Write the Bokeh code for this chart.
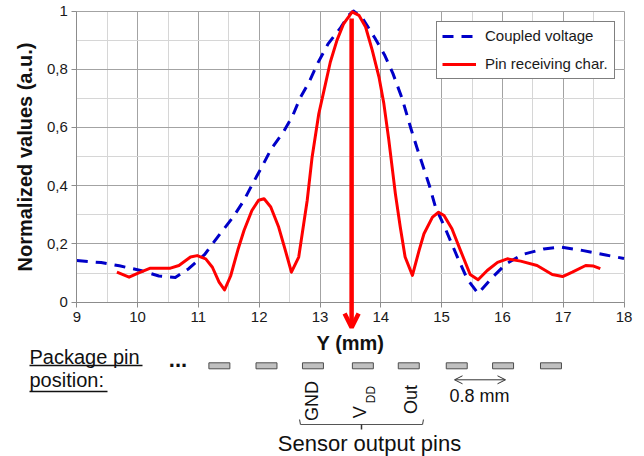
import math
from bokeh.plotting import figure
from bokeh.models import (Legend, LegendItem, Label, Arrow, OpenHead, Grid, LinearAxis,
                          SingleIntervalTicker, CustomJSTickFormatter, Range1d)
from bokeh.embed import file_html
from bokeh.resources import INLINE

# ---------------- data ----------------
coupled_x = [9.0, 9.4, 9.7, 10.05, 10.35, 10.62, 10.84, 11.1, 11.35, 11.57, 11.75, 11.9,
             12.05, 12.2, 12.4, 12.55, 12.67, 12.83, 12.96, 13.13, 13.34, 13.47, 13.55,
             13.7, 13.9, 14.06, 14.2, 14.35, 14.5, 14.6, 14.8, 14.9, 15.05, 15.26, 15.42,
             15.6, 15.84, 16.05, 16.33, 16.68, 16.96, 17.31, 17.7, 18.0]
coupled_y = [0.143, 0.136, 0.125, 0.109, 0.09, 0.085, 0.115, 0.163, 0.233, 0.292, 0.35, 0.41,
             0.467, 0.527, 0.585, 0.64, 0.70, 0.76, 0.82, 0.886, 0.943, 0.985, 1.0,
             0.975, 0.908, 0.85, 0.785, 0.70, 0.593, 0.527, 0.40, 0.326, 0.258, 0.155, 0.08,
             0.03, 0.086, 0.13, 0.164, 0.183, 0.189, 0.178, 0.162, 0.15]

pin_char_x = [9.66, 9.86, 9.99, 10.21, 10.54, 10.68, 10.87, 10.98, 11.12, 11.23, 11.34, 11.43,
              11.53, 11.65, 11.75, 11.88, 11.99, 12.08, 12.19, 12.32, 12.43, 12.53, 12.65,
              12.79, 12.87, 12.98, 13.09, 13.17, 13.28, 13.39, 13.53, 13.64, 13.75, 13.86,
              13.97, 14.05, 14.13, 14.24, 14.32, 14.4, 14.52, 14.63, 14.71, 14.85, 14.95,
              15.04, 15.17, 15.31, 15.47, 15.6, 15.75, 15.92, 16.08, 16.3, 16.57, 16.82,
              16.99, 17.15, 17.37, 17.5, 17.61]
pin_char_y = [0.103, 0.086, 0.098, 0.117, 0.117, 0.126, 0.155, 0.16, 0.149, 0.12, 0.069, 0.042,
              0.09, 0.18, 0.246, 0.315, 0.35, 0.355, 0.327, 0.258, 0.178, 0.103, 0.155,
              0.35, 0.498, 0.647, 0.75, 0.825, 0.9, 0.957, 0.997, 0.985, 0.945, 0.865,
              0.773, 0.682, 0.56, 0.372, 0.258, 0.155, 0.092, 0.178, 0.235, 0.292, 0.309,
              0.298, 0.252, 0.178, 0.095, 0.077, 0.109, 0.137, 0.149, 0.141, 0.126, 0.095,
              0.088, 0.103, 0.126, 0.124, 0.115]

x_bounds = (9, 18)
y_bounds = (0, 1)
peak_x = 13.52                      # red marker arrow position (mm)
package_pins_x = [11.345, 12.12, 12.884, 13.705, 14.46, 15.249, 16.011, 16.799]
pin_names = ["GND", "V", "Out"]     # under pins 3, 4, 5
series_names = ["Coupled voltage", "Pin receiving char."]
x_label = "Y (mm)"
y_label = "Normalized values (a.u.)"

# ---------------- layout: frame = whole canvas ----------------
W, H = 644, 456
XPX0, XPX1 = 76.3, 623.5      # screen x of x=9 and x=18
YPX0, YPX1 = 301.7, 10.5      # screen y of y=0 and y=1
SX = (XPX1 - XPX0) / (x_bounds[1] - x_bounds[0])
SY = (YPX0 - YPX1) / (y_bounds[1] - y_bounds[0])
FONT = "Liberation Sans"

def dx(px):
    return x_bounds[0] + (px - XPX0) / SX

def dy(py):
    return y_bounds[0] + (YPX0 - py) / SY

p = figure(width=W, height=H, x_range=Range1d(dx(0), dx(W)), y_range=Range1d(dy(H), dy(0)),
           x_axis_type=None, y_axis_type=None,
           output_backend="svg", toolbar_location=None, min_border=0,
           min_border_left=0, min_border_right=0, min_border_top=0, min_border_bottom=0)
p.background_fill_color = "white"
p.border_fill_color = "white"
p.outline_line_color = None

xticker = SingleIntervalTicker(interval=1, num_minor_ticks=2)
yticker = SingleIntervalTicker(interval=0.2, num_minor_ticks=2)

has_cross = "cross_bounds" in Grid.properties()
if has_cross:
    xgrid = Grid(dimension=0, ticker=xticker, bounds=x_bounds, cross_bounds=y_bounds)
    ygrid = Grid(dimension=1, ticker=yticker, bounds=y_bounds, cross_bounds=x_bounds)
    for g in (xgrid, ygrid):
        g.grid_line_color = "#a3a3a3"
        g.grid_line_width = 1
        g.minor_grid_line_color = "#d6d6d6"
        g.minor_grid_line_width = 1
        p.add_layout(g)
else:
    xs_minor = [x_bounds[0] + 0.5 * i for i in range(19) if i % 2 == 1]
    ys_minor = [0.1 * i for i in range(11) if i % 2 == 1]
    xs_major = list(range(9, 19))
    ys_major = [0.2 * i for i in range(6)]
    p.segment(x0=xs_minor, x1=xs_minor, y0=0, y1=1, line_color="#d6d6d6", line_width=1)
    p.segment(x0=9, x1=18, y0=ys_minor, y1=ys_minor, line_color="#d6d6d6", line_width=1)
    p.segment(x0=xs_major, x1=xs_major, y0=0, y1=1, line_color="#a3a3a3", line_width=1)
    p.segment(x0=9, x1=18, y0=ys_major, y1=ys_major, line_color="#a3a3a3", line_width=1)

xaxis = LinearAxis(fixed_location=y_bounds[0], bounds=x_bounds, ticker=xticker,
                   axis_label=x_label)
yaxis = LinearAxis(fixed_location=x_bounds[0], bounds=y_bounds, ticker=yticker,
                   axis_label=y_label)
yaxis.formatter = CustomJSTickFormatter(code="""
    if (Math.abs(tick) < 1e-9) return "0";
    if (Math.abs(tick - 1) < 1e-9) return "1";
    return tick.toFixed(1).replace('.', ',');
""")
for ax in (xaxis, yaxis):
    ax.axis_line_color = "#8c8c8c"
    ax.major_tick_line_color = "#8c8c8c"
    ax.minor_tick_line_color = None
    ax.major_tick_out = 5
    ax.major_tick_in = 0
    ax.major_label_text_font = FONT
    ax.major_label_text_font_size = "15px"
    ax.major_label_text_color = "#1a1a1a"
    ax.axis_label_text_font = FONT
    ax.axis_label_text_font_size = "20px"
    ax.axis_label_text_font_style = "bold"
    ax.axis_label_text_color = "#111111"
xaxis.major_label_standoff = 5
yaxis.major_label_standoff = 4
xaxis.axis_label_standoff = 6
yaxis.axis_label_standoff = 8
p.add_layout(xaxis, "below")
p.add_layout(yaxis, "left")

r_blue = p.line(coupled_x, coupled_y, line_color="#0000c8", line_width=3,
                line_dash="11 8", line_join="round")
r_red = p.line(pin_char_x, pin_char_y, line_color="#ff0000", line_width=3,
               line_join="round")

legend = Legend(items=[LegendItem(label=series_names[0], renderers=[r_blue]),
                       LegendItem(label=series_names[1], renderers=[r_red])],
                location=(436, H - 78.5), margin=0, padding=5, spacing=10,
                glyph_width=34, glyph_height=18, label_height=18, label_standoff=9,
                label_width=124,
                label_text_font=FONT, label_text_font_size="15px",
                label_text_color="#1a1a1a",
                border_line_color="#000000", border_line_width=1,
                background_fill_color="white", background_fill_alpha=1)
p.add_layout(legend)

# red marker arrow down to the pin row
p.add_layout(Arrow(x_start=peak_x, y_start=dy(18), x_end=peak_x, y_end=dy(327),
                   line_color="#ff0000", line_width=4.5,
                   end=OpenHead(size=14, line_color="#ff0000", line_width=4.5)))

# ---------------- pin row annotation ----------------
def lab(text, px, py, size, align="left", baseline="middle", style="normal", angle=0):
    p.add_layout(Label(x=dx(px), y=dy(py), text=text, text_font=FONT,
                       text_font_size=size, text_align=align, text_baseline=baseline,
                       text_font_style=style, angle=angle, text_color="#111111"))

def seg(x0, y0, x1, y1, width=1.5, color="#111111"):
    p.segment(x0=[dx(x0)], y0=[dy(y0)], x1=[dx(x1)], y1=[dy(y1)],
              line_color=color, line_width=width)

lab("Package pin", 29, 356.3, "20px")
lab("position:", 29, 379.7, "20px")
seg(29, 365, 142, 365)
seg(29, 391, 107, 391)
lab("...", 177.5, 358.8, "22px", align="center", style="bold")

p.rect(x=package_pins_x, y=dy(365.3), width=0.345, height=6, height_units="screen",
       fill_color="#c0c0c0", line_color="#4d4d4d", line_width=1)

lab(pin_names[0], 311, 400.5, "18px", align="center", angle=math.pi / 2)
lab(pin_names[1], 359.5, 411.7, "18px", align="center", angle=math.pi / 2)
lab("DD", 370, 394, "12px", align="center", angle=math.pi / 2)
lab(pin_names[2], 410, 399, "18px", align="center", angle=math.pi / 2)

# bracket under the sensor pins
seg(299, 419, 300, 424, 1.2, "#555555")
seg(300, 424, 422, 424, 1.2, "#555555")
seg(422, 424, 423, 419, 1.2, "#555555")
seg(361, 424, 361, 429, 1.5, "#333333")
lab("Sensor output pins", 369, 443.3, "22px", align="center")

# pitch arrow
p.add_layout(Arrow(x_start=dx(454), y_start=dy(379.3), x_end=dx(505), y_end=dy(379.3),
                   line_color="#333333", line_width=1,
                   start=OpenHead(size=8, line_color="#333333", line_width=1),
                   end=OpenHead(size=8, line_color="#333333", line_width=1)))
lab("0.8 mm", 479, 395.2, "18px", align="center")

open("out.html", "w").write(file_html(p, INLINE))
